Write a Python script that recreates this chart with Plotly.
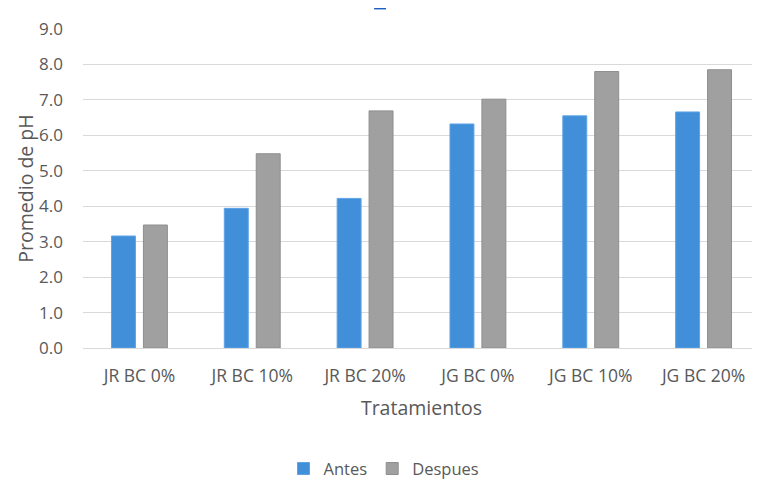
import plotly.graph_objects as go

categorias = ["JR BC 0%", "JR BC 10%", "JR BC 20%", "JG BC 0%", "JG BC 10%", "JG BC 20%"]
antes = [3.16, 3.94, 4.22, 6.32, 6.55, 6.66]
despues = [3.47, 5.48, 6.69, 7.02, 7.80, 7.85]
y_ticks = [0, 1, 2, 3, 4, 5, 6, 7, 8, 9]

FONT = "Open Sans"
TXT = "#595959"

# the page body has an 8px margin, so the figure is drawn 8px smaller
W, H = 752, 480

fig = go.Figure()
fig.add_trace(go.Bar(name="Antes", x=categorias, y=antes,
                     marker=dict(color="#418fd9", line=dict(color="#5ea3e6", width=1))))
fig.add_trace(go.Bar(name="Despues", x=categorias, y=despues,
                     marker=dict(color="#a0a0a0", line=dict(color="#8e8e8e", width=1))))

fig.update_layout(
    width=W, height=H,
    margin=dict(l=75, r=0, t=21, b=140),
    paper_bgcolor="white", plot_bgcolor="white",
    barmode="group", bargap=0.434, bargroupgap=0.25,
    font=dict(family=FONT, color=TXT, size=16),
    showlegend=True,
    legend=dict(orientation="h", x=0.5, xanchor="center", xref="container",
                y=0.04, yanchor="middle", yref="container",
                font=dict(size=16.5, color=TXT), traceorder="normal"),
    xaxis=dict(showgrid=False, showline=True, linecolor="#d9d9d9", linewidth=1,
               ticks="", ticklabelstandoff=12, tickfont=dict(size=17.5, color=TXT),
               title=dict(text="Tratamientos", font=dict(size=19.5, color=TXT), standoff=15)),
    yaxis=dict(range=[0, 9], tickvals=y_ticks, tickformat=".1f",
               showgrid=True, gridcolor="#d9d9d9", gridwidth=1, zeroline=False,
               showline=False, ticks="", ticklabelstandoff=19,
               tickfont=dict(size=17, color=TXT),
               title=dict(text="Promedio de pH", font=dict(size=19.5, color=TXT), standoff=0)),
    shapes=[dict(type="line", xref="paper", yref="paper",
                 x0=0.430, x1=0.4476, y0=1.066, y1=1.066,
                 line=dict(color="#1f5fc8", width=3))],
)

fig.write_html("out.html")
